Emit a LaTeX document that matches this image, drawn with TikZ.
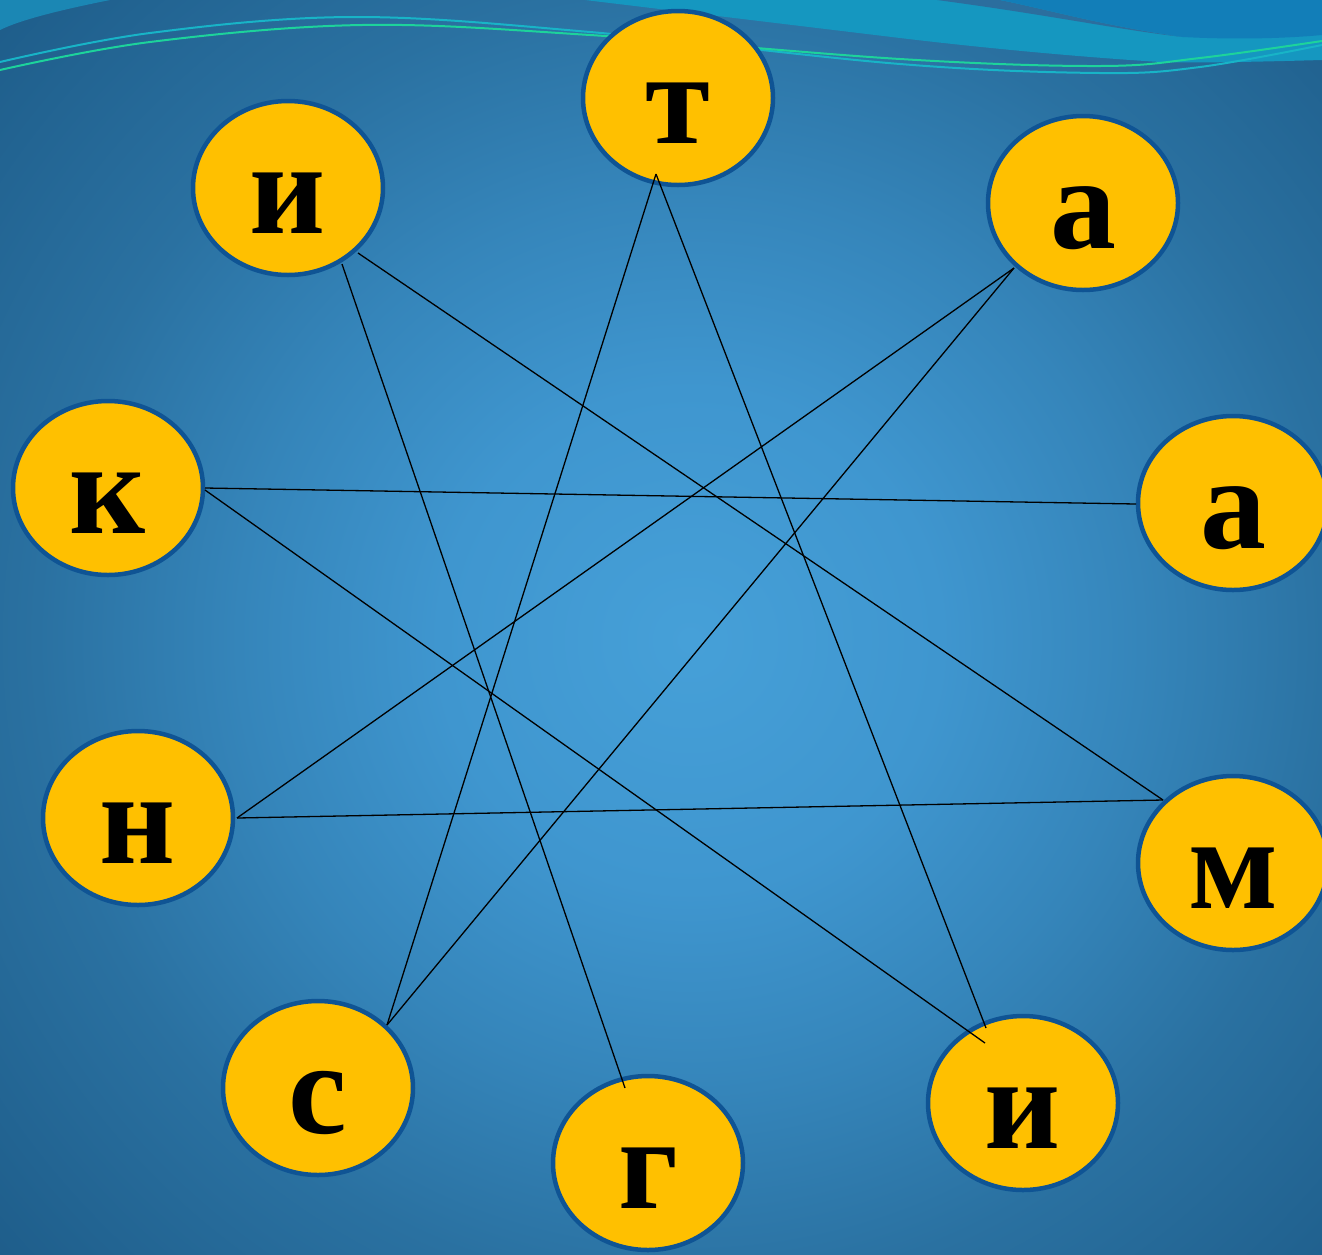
\documentclass[tikz,border=0pt]{standalone}
\usepackage{fontspec}
\setmainfont{Liberation Serif}
\usetikzlibrary{shapes.geometric}
\definecolor{bgA}{HTML}{46A0D8}
\definecolor{bgB}{HTML}{3F96CF}
\definecolor{bgC}{HTML}{3585BA}
\definecolor{bgD}{HTML}{2A71A1}
\definecolor{bgE}{HTML}{1E5D8A}
\definecolor{tealband}{HTML}{1597C0}
\definecolor{brightband}{HTML}{127EB8}
\definecolor{streak}{HTML}{2B6E9E}
\definecolor{cornerteal}{HTML}{1B87B4}
\definecolor{wavegreen}{HTML}{1DD39B}
\definecolor{wavecyan}{HTML}{18B4C7}
\definecolor{discfill}{HTML}{FFC000}
\definecolor{discline}{HTML}{0F5494}
\pgfdeclareradialshading{bgshade}{\pgfpoint{0bp}{0bp}}{color(0bp)=(bgA); color(250bp)=(bgB); color(450bp)=(bgC); color(650bp)=(bgD); color(930bp)=(bgE)}
\tikzset{
  disc/.style={ellipse, draw=discline, line width=4.5pt, fill=discfill,
    minimum width=190pt, minimum height=174pt, inner sep=0pt,
    text height=90pt, text depth=0pt,
    font=\fontsize{132}{132}\selectfont\bfseries},
  link/.style={draw=black, line width=1.3pt},
  wave/.style={line width=2pt}
}
\begin{document}
\begin{tikzpicture}[x=1pt,y=-1pt]
\useasboundingbox (0,0) rectangle (1322,1254);
\clip (0,0) rectangle (1322,1254);
\fill[bgE] (0,0) rectangle (1322,1254);
\node[inner sep=0pt, outer sep=0pt] (bg) at (690,640) {\pgfuseshading{bgshade}};
% top decoration
\fill[cornerteal] (0,0) -- (110,0) .. controls (60,10) and (20,20) .. (0,30) -- cycle;
\fill[tealband] (585,0) -- (1322,0) -- (1322,60) .. controls (1250,62) and (1200,63) .. (1160,62) .. controls (1050,55) and (950,44) .. (900,38) -- cycle;
\fill[streak] (937,0) .. controls (1050,15) and (1120,30) .. (1183,37) .. controls (1100,25) and (1050,10) .. (1000,0) -- cycle;
\fill[brightband] (1000,0) .. controls (1050,10) and (1100,25) .. (1183,37) .. controls (1240,40) and (1290,38) .. (1322,35) -- (1322,0) -- cycle;
\draw[wave, wavecyan] plot[smooth, tension=0.6] coordinates {(0,62) (150,33) (354,17) (590,32) (900,64) (1100,73) (1200,67) (1322,45)};
\draw[wave, wavegreen] plot[smooth, tension=0.6] coordinates {(0,70) (150,42) (362,25) (590,35) (900,59) (1100,66) (1200,58) (1322,41)};
% discs
\node[disc] (t)  at (678,98)   {т};
\node[disc] (i1) at (288,188)  {и};
\node[disc] (a1) at (1083,203) {а};
\node[disc] (k)  at (108,488)  {к};
\node[disc] (a2) at (1233,503) {а};
\node[disc] (n)  at (138,818)  {н};
\node[disc] (m)  at (1233,863) {м};
\node[disc] (s)  at (318,1088) {с};
\node[disc] (g)  at (648,1163) {г};
\node[disc] (i2) at (1023,1103) {и};
% connectors
\draw[link] ([shift={(54,76)}]i1.center) -- ([shift={(-23,-75)}]g.center);
\draw[link] ([shift={(70,65)}]i1.center) -- ([shift={(-70,-63)}]m.center);
\draw[link] ([shift={(-22,76)}]t.center) -- ([shift={(69,-63)}]s.center);
\draw[link] ([shift={(-22,76)}]t.center) -- ([shift={(-37,-75)}]i2.center);
\draw[link] ([shift={(-69,65)}]a1.center) -- ([shift={(99,0)}]n.center);
\draw[link] ([shift={(-69,65)}]a1.center) -- ([shift={(69,-63)}]s.center);
\draw[link] ([shift={(97,0)}]k.center) -- ([shift={(-97,1)}]a2.center);
\draw[link] ([shift={(97,2)}]k.center) -- ([shift={(-38,-60)}]i2.center);
\draw[link] ([shift={(99,0)}]n.center) -- ([shift={(-70,-63)}]m.center);
\end{tikzpicture}
\end{document}
